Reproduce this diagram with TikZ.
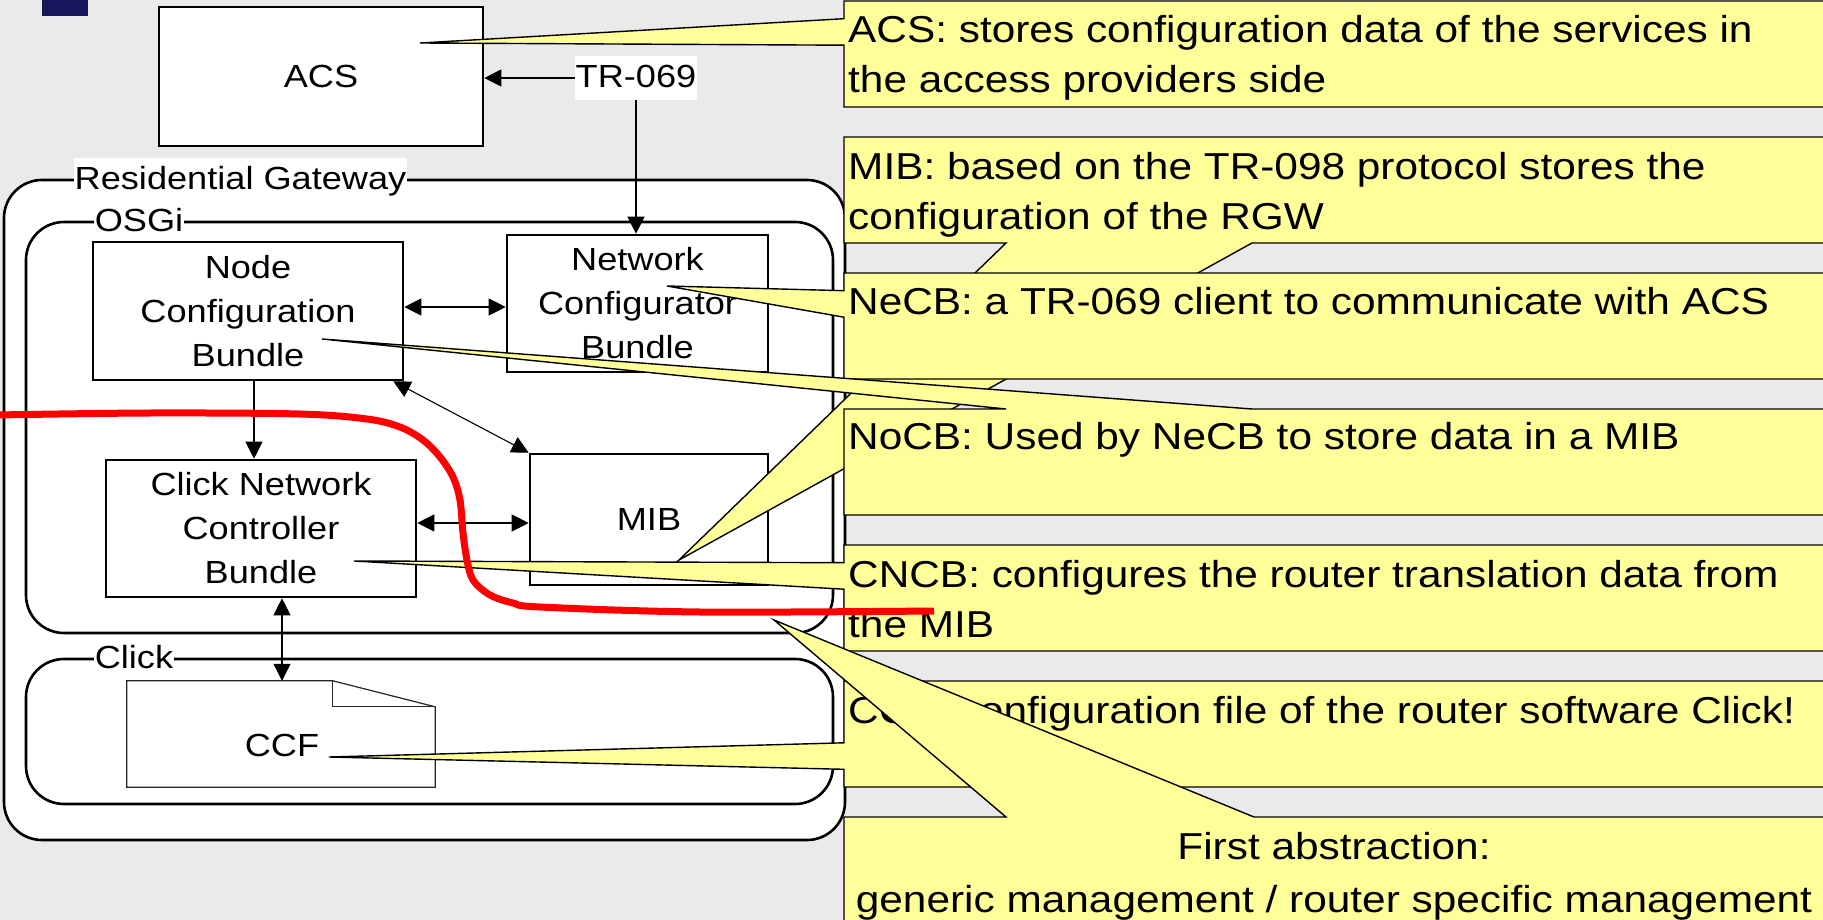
\documentclass[tikz,border=0pt]{standalone}
\usepackage{fontspec}
\setmainfont{Liberation Sans}[FakeStretch=1.13]
\usetikzlibrary{arrows.meta,calc}

\definecolor{slidegrey}{RGB}{234,234,234}
\definecolor{noteyellow}{RGB}{255,255,153}
\definecolor{slidenavy}{RGB}{22,22,90}
\definecolor{cutred}{RGB}{255,0,0}

\newcommand\compfont{\fontsize{32pt}{44pt}\selectfont}
\newcommand\notefont{\fontsize{37.5pt}{50.5pt}\selectfont}

\begin{document}
\begin{tikzpicture}[x=1pt,y=-1pt,
  compbox/.style={draw, line width=2.6pt, fill=white, inner sep=0pt, align=center, font=\compfont},
  frame/.style={draw, line width=2.6pt, fill=white, rounded corners=38pt, inner sep=0pt},
  framelabel/.style={fill=white, inner xsep=1pt, inner ysep=0pt, font=\compfont, anchor=base},
  link/.style={line width=1.1pt, -{Triangle[length=17pt,width=17pt]}},
  duplex/.style={line width=1.1pt, {Triangle[length=17pt,width=17pt]}-{Triangle[length=17pt,width=17pt]}},
  note/.style={fill=noteyellow, draw=black, line width=1.4pt},
  notetext/.style={font=\notefont, inner sep=0pt, anchor=base west, align=left},
  cut/.style={draw=cutred, line width=7pt}
]
\useasboundingbox (0,0) rectangle (1823,920);
\fill[slidegrey] (0,0) rectangle (1823,920);
\fill[slidenavy] (42,-5) rectangle (88,16);

% server side
\node[compbox, minimum width=324pt, minimum height=139pt] (acs) at (321,76.5) {ACS};

% residential gateway and its layers
\node[frame, minimum width=841pt, minimum height=660pt] (rgw) at (424.5,510) {};
\node[framelabel, text height=32pt, text depth=7pt] (rgwlabel) at (240.5,190) {Residential Gateway};
\node[frame, minimum width=807pt, minimum height=411pt] (osgi) at (429.5,427.5) {};
\node[framelabel, text height=26pt, text depth=3pt] (osgilabel) at (139,232) {OSGi};
\node[frame, minimum width=807pt, minimum height=145pt] (click) at (429.5,731.5) {};
\node[framelabel, text height=26pt, text depth=3pt] (clicklabel) at (134,668) {Click};

% bundles
\node[compbox, minimum width=310pt, minimum height=138pt] (ncb) at (248,311) {Node\\Configuration\\Bundle};
\node[compbox, minimum width=261pt, minimum height=137pt] (necb) at (637.5,303.5) {Network\\Configurator\\Bundle};
\node[compbox, minimum width=310pt, minimum height=137pt] (cncb) at (261,528.5) {Click Network\\Controller\\Bundle};
\node[compbox, minimum width=238pt, minimum height=131pt] (mib) at (649,519.5) {MIB};

% Click configuration file (document with folded corner)
\node[minimum width=308pt, minimum height=106pt, inner sep=0pt] (ccfdoc) at (281,734) {};
\filldraw[fill=white, draw=black!85, line width=1.2pt]
  (ccfdoc.north west) -- ($(ccfdoc.north west)+(206,0)$) -- ($(ccfdoc.north east)+(0,26)$)
  -- (ccfdoc.south east) -- (ccfdoc.south west) -- cycle;
\draw[draw=black!85, line width=1.2pt]
  ($(ccfdoc.north west)+(206,0)$) -- ($(ccfdoc.north west)+(206,26)$) -- ($(ccfdoc.north east)+(0,26)$);
\node[font=\compfont, inner sep=0pt] (ccf) at (282,745) {CCF};

% protocol label and connectors
\node[fill=white, font=\compfont, inner xsep=1pt, inner ysep=0pt, anchor=base,
      text height=32pt, text depth=12pt] (tr) at (636,88) {TR-069};
\draw[link] (tr.west) -- (tr.west -| acs.east);
\draw[link] (tr.south) -- (tr.south |- necb.north);
\draw[duplex] ([yshift=4pt]ncb.east) -- ([yshift=4pt]ncb.east -| necb.west);
\draw[link] ([xshift=6pt]ncb.south) -- ([xshift=6pt]ncb.south |- cncb.north);
\draw[duplex] ([xshift=-11pt]ncb.south east) -- (mib.north west);
\draw[duplex] ([yshift=5.5pt]cncb.east) -- ([yshift=5.5pt]cncb.east -| mib.west);
\draw[duplex] (cncb.south -| ccf) -- (ccfdoc.north -| ccf);

% callout pointer targets
\coordinate (acstip)  at (420,43);
\coordinate (mibtip)  at (679,560);
\coordinate (necbtip) at (667,286);
\coordinate (ncbtip)  at (322,339);
\coordinate (cncbtip) at (354,561);
\coordinate (ccftip)  at (329,757);
\coordinate (gentip)  at (774,620);

% ACS note (two lines: anchored on the baseline of the last line)
\filldraw[note] (844,1) -- (1830,1) -- (1830,107) -- (844,107) -- (844,45.2) -- (acstip) -- (844,18.7) -- cycle;
\node[notetext] (acsnote) at (848,93) {ACS: stores configuration data of the services in\\the access providers side};

% MIB note
\filldraw[note] (844,137) -- (1830,137) -- (1830,243) -- (1252,243) -- (mibtip) -- (1006,243) -- (844,243) -- cycle;
\node[notetext] (mibnote) at (848,229.5) {MIB: based on the TR-098 protocol stores the\\configuration of the RGW};

% NeCB note
\filldraw[note] (844,273) -- (1830,273) -- (1830,379) -- (844,379) -- (844,317.2) -- (necbtip) -- (844,290.7) -- cycle;
\node[notetext] (necbnote) at (848,314) {NeCB: a TR-069 client to communicate with ACS};

% NoCB note
\filldraw[note] (844,409) -- (1006,409) -- (ncbtip) -- (1252,409) -- (1830,409) -- (1830,515) -- (844,515) -- cycle;
\node[notetext] (ncbnote) at (848,449) {NoCB: Used by NeCB to store data in a MIB};

% CNCB note
\filldraw[note] (844,545) -- (1830,545) -- (1830,651) -- (844,651) -- (844,589.2) -- (cncbtip) -- (844,562.7) -- cycle;
\node[notetext] (cncbnote) at (848,637.5) {CNCB: configures the router translation data from\\the MIB};

% CCF note
\filldraw[note] (844,681) -- (1830,681) -- (1830,787) -- (844,787) -- (844,769.3) -- (ccftip) -- (844,742.8) -- cycle;
\node[notetext] (ccfnote) at (848,723) {CCF: configuration file of the router software Click!};

% abstraction note
\filldraw[note] (844,817) -- (1006,817) -- (gentip) -- (1254,817) -- (1830,817) -- (1830,925) -- (844,925) -- cycle;
\node[font=\fontsize{37.5pt}{52.5pt}\selectfont, inner sep=0pt, anchor=base, align=center] (gennote) at (1334,912) {First abstraction:\\generic management / router specific management};

% boundary between generic and router specific management
\draw[cut] plot[smooth, tension=0.55] coordinates {(-5,415) (150,413) (300,414) (367,419) (400,427) (423,440) (440,457) (453,477) (460,500) (463,533) (467,560) (473,580) (490,595) (513,603) (540,607) (700,612) (934,611)};
\end{tikzpicture}
\end{document}
